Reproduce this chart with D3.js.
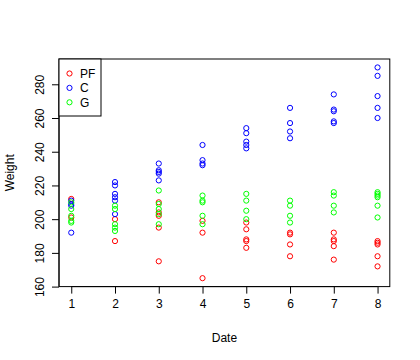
<!DOCTYPE html>
<html>
<head>
<meta charset="utf-8">
<script src="https://cdn.jsdelivr.net/npm/d3@7"></script>
<style>
  html, body { margin: 0; padding: 0; background: #fff; }
  svg { display: block; }
  text { font-family: "Liberation Sans", Arial, sans-serif; font-size: 12px; fill: #000; }
</style>
</head>
<body>
<script>
// ---- data ----
const xTicks = [1, 2, 3, 4, 5, 6, 7, 8];
const yTicks = [160, 180, 200, 220, 240, 260, 280];
const seriesNames = ["PF", "C", "G"];
const seriesColors = ["#ff0000", "#0000ff", "#00ff00"];

const pfDate   = [1,1, 2,2, 3,3,3,3,3, 4,4,4, 5,5,5,5,5, 6,6,6,6, 7,7,7,7,7, 8,8,8,8,8];
const pfWeight = [212,201, 200,187, 210,204,202,195,175, 199,192,165, 198,194,188,187,183, 192,191,185,178, 192,188,187,184,176, 187,186,185,178,172];

const cDate   = [1,1,1,1, 2,2,2,2,2,2, 3,3,3,3,3, 4,4,4,4, 5,5,5,5,5, 6,6,6,6, 7,7,7,7,7, 8,8,8,8,8];
const cWeight = [211,209,208,192, 222,220,215,213,211,203, 233,229,228,227,223, 244,235,233,232, 254,251,246,244,242, 266,257,252,248, 274,265,264,258,257, 290,285,273,266,260];

const gDate   = [1,1,1,1,1, 2,2,2,2,2, 3,3,3,3,3, 4,4,4,4,4, 5,5,5,5, 6,6,6,6, 7,7,7,7, 8,8,8,8,8,8];
const gWeight = [210,206,202,199,198, 208,206,197,195,193, 217,209,206,203,197, 214,211,210,202,197, 215,211,205,200, 211,208,202,198, 216,214,208,204, 216,215,214,213,208,201];

const xLabel = "Date";
const yLabel = "Weight";

// ---- layout ----
const W = 420, H = 360;
const box = { left: 59, right: 389.8, top: 59, bottom: 286.6 };

const series = [
  { name: seriesNames[0], color: seriesColors[0], dates: pfDate, weights: pfWeight },
  { name: seriesNames[1], color: seriesColors[1], dates: cDate,  weights: cWeight },
  { name: seriesNames[2], color: seriesColors[2], dates: gDate,  weights: gWeight }
];

const allDates = pfDate.concat(cDate, gDate);
const allWeights = pfWeight.concat(cWeight, gWeight);
const xe = d3.extent(allDates), ye = d3.extent(allWeights);
const xPad = (xe[1] - xe[0]) * 0.04, yPad = (ye[1] - ye[0]) * 0.04;

const x = d3.scaleLinear().domain([xe[0] - xPad, xe[1] + xPad]).range([box.left, box.right]);
const y = d3.scaleLinear().domain([ye[0] - yPad, ye[1] + yPad]).range([box.bottom, box.top]);

const svg = d3.select("body").append("svg").attr("width", W).attr("height", H);

// points
series.forEach(s => {
  svg.append("g").selectAll("circle")
    .data(s.dates.map((d, i) => [d, s.weights[i]]))
    .join("circle")
    .attr("cx", d => x(d[0]))
    .attr("cy", d => y(d[1]))
    .attr("r", 2.6)
    .attr("fill", "none")
    .attr("stroke", s.color)
    .attr("stroke-width", 1);
});

// x axis
const xAxis = d3.axisBottom(x).tickValues(xTicks).tickSize(7).tickPadding(6).tickFormat(d3.format("d"));
const gx = svg.append("g").attr("transform", `translate(0,${box.bottom})`).call(xAxis);
gx.select(".domain").attr("d", `M${x(xTicks[0])},0H${x(xTicks[xTicks.length-1])}`).attr("stroke", "#000");
gx.selectAll(".tick line").attr("stroke", "#000");
gx.selectAll("text").attr("font-size", 12).attr("font-family", "Liberation Sans, Arial, sans-serif").attr("fill", "#000");

// y axis
const yAxis = d3.axisLeft(y).tickValues(yTicks).tickSize(7).tickFormat(d3.format("d"));
const gy = svg.append("g").attr("transform", `translate(${box.left},0)`).call(yAxis);
gy.select(".domain").attr("d", `M0,${y(yTicks[0])}V${y(yTicks[yTicks.length-1])}`).attr("stroke", "#000");
gy.selectAll(".tick line").attr("stroke", "#000");
gy.selectAll(".tick text")
  .attr("x", 0).attr("y", 0).attr("dy", null)
  .attr("text-anchor", "middle")
  .attr("transform", "translate(-15,0) rotate(-90)")
  .attr("font-size", 12).attr("font-family", "Liberation Sans, Arial, sans-serif").attr("fill", "#000");

// plot box
svg.append("rect")
  .attr("x", box.left).attr("y", box.top)
  .attr("width", box.right - box.left).attr("height", box.bottom - box.top)
  .attr("fill", "none").attr("stroke", "#000").attr("stroke-width", 1);

// axis titles
svg.append("text").attr("x", (box.left + box.right) / 2).attr("y", 342)
  .attr("text-anchor", "middle").text(xLabel);
svg.append("text").attr("transform", `translate(14,${(box.top + box.bottom) / 2}) rotate(-90)`)
  .attr("text-anchor", "middle").text(yLabel);

// legend
const leg = svg.append("g");
leg.append("rect").attr("x", box.left).attr("y", box.top).attr("width", 42).attr("height", 57)
  .attr("fill", "#fff").attr("stroke", "#000").attr("stroke-width", 1);
series.forEach((s, i) => {
  const cy = 73.5 + i * 14.4;
  leg.append("circle").attr("cx", 69.5).attr("cy", cy).attr("r", 2.6)
    .attr("fill", "none").attr("stroke", s.color).attr("stroke-width", 1);
  leg.append("text").attr("x", 80).attr("y", cy + 4.3).text(s.name);
});
</script>
</body>
</html>
